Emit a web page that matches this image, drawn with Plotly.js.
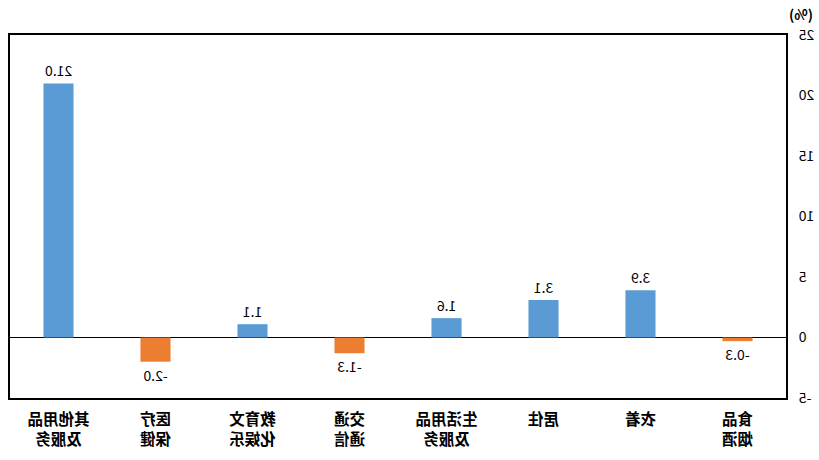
<!DOCTYPE html>
<html>
<head>
<meta charset="utf-8">
<script src="https://cdn.plot.ly/plotly-3.0.1.min.js"></script>
<style>
  html, body { margin: 0; padding: 0; background: #fff; }
  /* the reference picture is drawn mirrored left-to-right */
  #chart { width: 819px; height: 460px; transform: scaleX(-1); }
</style>
</head>
<body>
<div id="chart"></div>
<script>
// categories (left to right before mirroring)
const categories = ['食品<br>烟酒', '衣着', '居住', '生活用品<br>及服务', '交通<br>通信', '教育文<br>化娱乐', '医疗<br>保健', '其他用品<br>及服务'];
const changeRate = [-0.3, 3.9, 3.1, 1.6, -1.3, 1.1, -2.0, 21.0];
const yTicks = [-5, 0, 5, 10, 15, 20, 25];

const BLUE = '#5B9BD5';
const ORANGE = '#ED7D31';
const FONT = '"Noto Sans CJK SC", "Noto Sans", sans-serif';

let barColors = changeRate.map(v => v < 0 ? ORANGE : BLUE);

let trace = {
  type: 'bar',
  x: categories,
  y: changeRate,
  marker: { color: barColors },
  text: changeRate.map(v => v.toFixed(1)),
  textposition: 'outside',
  cliponaxis: false,
  textfont: { family: FONT, size: 14, color: '#000' },
  hoverinfo: 'none'
};

let layout = {
  width: 819,
  height: 460,
  margin: { l: 33, r: 10, t: 35, b: 62, pad: 0 },
  paper_bgcolor: '#fff',
  plot_bgcolor: '#fff',
  bargap: 0.69,
  showlegend: false,
  font: { family: FONT, color: '#000' },
  xaxis: {
    type: 'category',
    showline: true,
    mirror: true,
    linecolor: '#000',
    linewidth: 2,
    ticks: '',
    showgrid: false,
    tickfont: { family: FONT, size: 15.5, color: '#000', weight: 'bold' },
    ticklabelstandoff: 6
  },
  yaxis: {
    range: [-5, 25],
    tickvals: yTicks,
    ticktext: yTicks.map(String),
    showline: true,
    mirror: true,
    linecolor: '#000',
    linewidth: 2,
    showgrid: false,
    zeroline: true,
    zerolinecolor: '#000',
    zerolinewidth: 1,
    ticks: '',
    tickfont: { family: FONT, size: 14, color: '#000' },
    ticklabelstandoff: 8
  },
  annotations: [{
    text: '(%)',
    xref: 'paper', yref: 'paper',
    x: -0.019, y: 1.058,
    xanchor: 'center', yanchor: 'middle',
    showarrow: false,
    font: { family: FONT, size: 14, color: '#000', weight: 'bold' }
  }]
};

Plotly.newPlot('chart', [trace], layout, { displayModeBar: false, staticPlot: true });
</script>
</body>
</html>
